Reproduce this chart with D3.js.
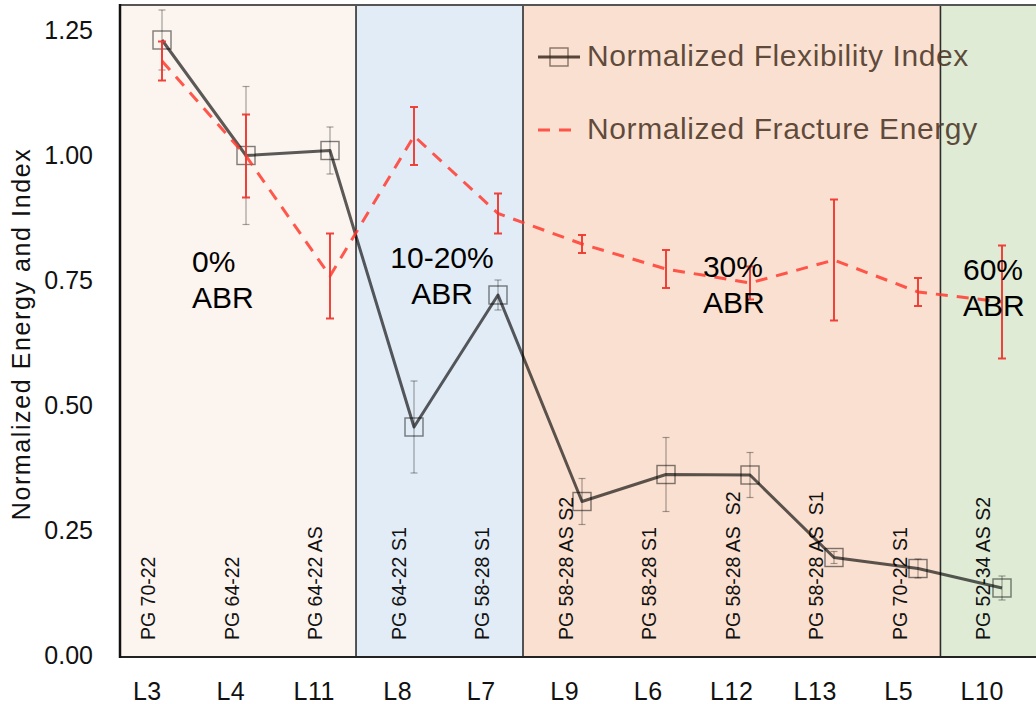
<!DOCTYPE html>
<html>
<head>
<meta charset="utf-8">
<script src="https://cdn.jsdelivr.net/npm/d3@7"></script>
<style>
  html, body { margin: 0; padding: 0; background: #ffffff; }
  svg { display: block; font-family: "Liberation Sans", Arial, Helvetica, sans-serif; }
</style>
</head>
<body>
<svg id="chart" width="1036" height="704"></svg>
<script>
// ---- data ----
const categories = ["L3", "L4", "L11", "L8", "L7", "L9", "L6", "L12", "L13", "L5", "L10"];
const binders = ["PG 70-22", "PG 64-22", "PG 64-22 AS", "PG 64-22 S1", "PG 58-28 S1",
                 "PG 58-28 AS S2", "PG 58-28 S1", "PG 58-28 AS  S2", "PG 58-28 AS  S1",
                 "PG 70-22 S1", "PG 52-34 AS S2"];
const flexIndex  = [1.234, 1.003, 1.013, 0.460, 0.724, 0.311, 0.365, 0.364, 0.199, 0.177, 0.138];
const flexErr    = [0.060, 0.138, 0.047, 0.092, 0.030, 0.046, 0.074, 0.045, 0.012, 0.019, 0.024];
const fracEnergy = [1.192, 1.002, 0.762, 1.042, 0.887, 0.826, 0.776, 0.748, 0.794, 0.730, 0.710];
const fracErr    = [0.039, 0.083, 0.085, 0.058, 0.040, 0.018, 0.038, 0.033, 0.121, 0.028, 0.113];
const abrGroups  = ["0%", "10-20%", "30%", "60%"];
const abrCounts  = [3, 2, 5, 1];
const yTicks     = [0, 0.25, 0.5, 0.75, 1.0, 1.25];
const seriesNames = ["Normalized Flexibility Index", "Normalized Fracture Energy"];
const yTitle = "Normalized Energy and Index";

// ---- layout ----
const W = 1036, H = 704;
const plot = { left: 120, right: 1046, top: 5, bottom: 657 };
const panelFills = ["#fcf4ef", "#e2ecf6", "#fae0d0", "#dfebd5"];
// where each group caption sits: category-index position, text anchor, value of first baseline
const captionPlacement = [
  { at: 0.535, anchor: "start",  v: 0.770 },
  { at: 3.53,  anchor: "middle", v: 0.778 },
  { at: 6.655, anchor: "start",  v: 0.760 },
  { at: 9.77,  anchor: "start",  v: 0.754 }
];

const svg = d3.select("#chart");

const y = d3.scaleLinear().domain([0, 1.304]).range([plot.bottom, plot.top]);
// category bands used by the axis labels and the group panels
const xBand = d3.scaleBand().domain(categories).range([105.55, 1023.94]).padding(0);
const bw = xBand.bandwidth();
const xIdx = d3.scaleLinear().domain([0, categories.length - 1])
  .range([xBand(categories[0]) + bw / 2, xBand(categories[categories.length - 1]) + bw / 2]);
// data points
const xPt = d3.scalePoint().domain(categories).range([162, 1002]);

// ---- group panels ----
let start = 0;
const panels = abrCounts.map((c, i) => {
  const first = categories[start], last = categories[start + c - 1];
  const p = {
    name: abrGroups[i],
    x0: i === 0 ? plot.left : xBand(first),
    x1: i === abrCounts.length - 1 ? plot.right : xBand(last) + bw,
    fill: panelFills[i]
  };
  start += c;
  return p;
});

svg.append("g").selectAll("rect").data(panels).join("rect")
  .attr("x", d => d.x0).attr("y", plot.top)
  .attr("width", d => d.x1 - d.x0).attr("height", plot.bottom - plot.top)
  .attr("fill", d => d.fill);

svg.append("g").selectAll("line").data(panels.slice(1)).join("line")
  .attr("x1", d => d.x0).attr("x2", d => d.x0)
  .attr("y1", plot.top).attr("y2", plot.bottom)
  .attr("stroke", "#2d2d2d").attr("stroke-width", 1.6);

// frame
svg.append("line").attr("x1", plot.left).attr("x2", plot.right)
  .attr("y1", plot.top).attr("y2", plot.top)
  .attr("stroke", "#555").attr("stroke-width", 2);
svg.append("line").attr("x1", plot.left).attr("x2", plot.right)
  .attr("y1", plot.bottom).attr("y2", plot.bottom)
  .attr("stroke", "#222").attr("stroke-width", 2);
svg.append("line").attr("x1", plot.left).attr("x2", plot.left)
  .attr("y1", plot.top - 1).attr("y2", plot.bottom + 1)
  .attr("stroke", "#111").attr("stroke-width", 2.5);

// ---- axes ----
const yAxis = svg.append("g").attr("transform", `translate(${plot.left},0)`)
  .call(d3.axisLeft(y).tickValues(yTicks).tickFormat(d3.format(".2f")).tickSize(0).tickPadding(27));
yAxis.select(".domain").remove();
yAxis.selectAll("text").attr("font-size", 25).attr("fill", "#111").attr("dy", "0.25em")
  .attr("font-family", "Liberation Sans, Arial, sans-serif");

const xAxis = svg.append("g").attr("transform", `translate(0,${plot.bottom})`)
  .call(d3.axisBottom(xBand).tickSize(0).tickPadding(25));
xAxis.select(".domain").remove();
xAxis.selectAll("text").attr("font-size", 25).attr("fill", "#111")
  .attr("letter-spacing", 0.5).attr("font-family", "Liberation Sans, Arial, sans-serif");

svg.append("text")
  .attr("transform", `translate(30,${334}) rotate(-90)`)
  .attr("text-anchor", "middle").attr("font-size", 25).attr("letter-spacing", 1.6)
  .attr("fill", "#111").text(yTitle);

// ---- binder labels (rotated) ----
svg.append("g").selectAll("text").data(categories).join("text")
  .attr("transform", (d) => `translate(${xBand(d) + bw / 2 + 8},640) rotate(-90)`)
  .attr("font-size", 19.5).attr("fill", "#111")
  .style("white-space", "pre")
  .text((d, i) => binders[i]);

// ---- flexibility index: error bars, line, markers ----
const flexPts = categories.map((c, i) => ({ c, v: flexIndex[i], e: flexErr[i] }));
const fracPts = categories.map((c, i) => ({ c, v: fracEnergy[i], e: fracErr[i] }));

function errorBars(g, pts, cap, color, width, opacity) {
  const sel = g.selectAll("g").data(pts).join("g")
    .attr("stroke", color).attr("stroke-width", width).attr("stroke-opacity", opacity);
  sel.append("line")
    .attr("x1", d => xPt(d.c)).attr("x2", d => xPt(d.c))
    .attr("y1", d => y(d.v + d.e)).attr("y2", d => y(d.v - d.e));
  sel.append("line")
    .attr("x1", d => xPt(d.c) - cap / 2).attr("x2", d => xPt(d.c) + cap / 2)
    .attr("y1", d => y(d.v + d.e)).attr("y2", d => y(d.v + d.e));
  sel.append("line")
    .attr("x1", d => xPt(d.c) - cap / 2).attr("x2", d => xPt(d.c) + cap / 2)
    .attr("y1", d => y(d.v - d.e)).attr("y2", d => y(d.v - d.e));
}

errorBars(svg.append("g"), flexPts, 7, "#000", 1.2, 0.35);

const line = d3.line().x(d => xPt(d.c)).y(d => y(d.v));

svg.append("path").datum(flexPts)
  .attr("d", line).attr("fill", "none")
  .attr("stroke", "#000").attr("stroke-opacity", 0.64)
  .attr("stroke-width", 3).attr("stroke-linejoin", "round");

const sq = 18;
svg.append("g").selectAll("rect").data(flexPts).join("rect")
  .attr("x", d => xPt(d.c) - sq / 2).attr("y", d => y(d.v) - sq / 2)
  .attr("width", sq).attr("height", sq)
  .attr("fill", "none").attr("stroke", "#000").attr("stroke-opacity", 0.5)
  .attr("stroke-width", 1.4);

// ---- fracture energy: dashed line and error bars ----
svg.append("path").datum(fracPts)
  .attr("d", line).attr("fill", "none")
  .attr("stroke", "#ff3b2f").attr("stroke-opacity", 0.85)
  .attr("stroke-width", 3).attr("stroke-dasharray", "12,9");

errorBars(svg.append("g"), fracPts, 8, "#ee3a32", 2, 0.95);

// ---- group captions ----
const caps = svg.append("g").selectAll("text").data(abrGroups).join("text")
  .attr("text-anchor", (d, i) => captionPlacement[i].anchor)
  .attr("font-size", 30).attr("fill", "#000");
caps.each(function (d, i) {
  const p = captionPlacement[i];
  const t = d3.select(this);
  const x = xIdx(p.at);
  t.append("tspan").attr("x", x).attr("y", y(p.v)).text(d);
  t.append("tspan").attr("x", x).attr("y", y(p.v) + 36).text("ABR");
});

// ---- legend ----
const leg = svg.append("g");
const legX0 = 538, legX1 = 580, legRows = [57, 130];
leg.append("line").attr("x1", legX0).attr("x2", legX1).attr("y1", legRows[0]).attr("y2", legRows[0])
  .attr("stroke", "#3a2a1e").attr("stroke-opacity", 0.85).attr("stroke-width", 3);
leg.append("rect").attr("x", (legX0 + legX1) / 2 - sq / 2).attr("y", legRows[0] - sq / 2)
  .attr("width", sq).attr("height", sq).attr("fill", "none")
  .attr("stroke", "#3a2a1e").attr("stroke-opacity", 0.6).attr("stroke-width", 1.4);
leg.append("line").attr("x1", legX0).attr("x2", legX1).attr("y1", legRows[1]).attr("y2", legRows[1])
  .attr("stroke", "#ff3b2f").attr("stroke-opacity", 0.85).attr("stroke-width", 3)
  .attr("stroke-dasharray", "12,9");
leg.selectAll("text").data(seriesNames).join("text")
  .attr("x", 587).attr("y", (d, i) => legRows[i] + 9)
  .attr("font-size", 30).attr("letter-spacing", 0.6)
  .attr("fill", "#4a3526").attr("fill-opacity", 0.88)
  .text(d => d);
</script>
</body>
</html>
